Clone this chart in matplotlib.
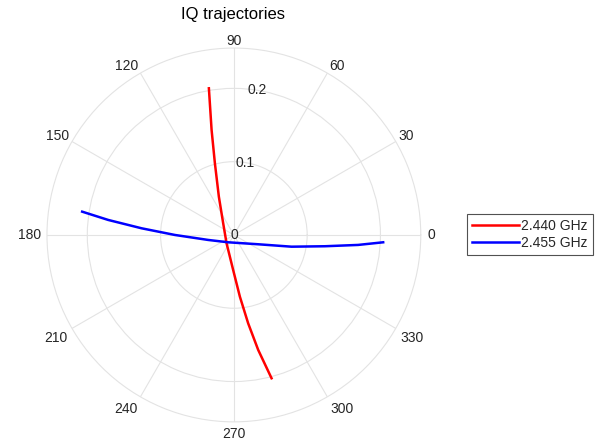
import numpy as np
import matplotlib
matplotlib.use("Agg")
import matplotlib.pyplot as plt
from matplotlib.transforms import offset_copy

plt.rcParams["font.family"] = ["Liberation Sans", "DejaVu Sans"]

# IQ samples (I, Q) for each carrier frequency
i_2440 = [-0.0341, -0.0304, -0.0259, -0.0205, -0.0146, -0.0100, -0.0010, 0.0082, 0.0195, 0.0332, 0.0514]
q_2440 = [0.2001, 0.1432, 0.0978, 0.0523, 0.0160, -0.0113, -0.0477, -0.0842, -0.1206, -0.1569, -0.1955]

i_2455 = [-0.2070, -0.1715, -0.1259, -0.0805, -0.0351, -0.0078, 0.0332, 0.0787, 0.1241, 0.1695, 0.2037]
q_2455 = [0.0318, 0.0205, 0.0091, 0.0000, -0.0068, -0.0100, -0.0127, -0.0160, -0.0154, -0.0136, -0.0100]

labels = ["2.440 GHz", "2.455 GHz"]
colors = ["#ff0000", "#0000ff"]

r_ticks = [0, 0.1, 0.2]
r_tick_labels = ["0", "0.1", "0.2"]
r_max = 0.255
theta_ticks = list(range(0, 360, 30))

text_color = "#262626"
grid_color = "#e3e3e3"

fig = plt.figure(figsize=(6.02, 4.45), dpi=100)
ax = fig.add_axes([0.078, 0.052, 0.621, 0.840], projection="polar")

for I, Q, lab, col in [(i_2440, q_2440, labels[0], colors[0]),
                       (i_2455, q_2455, labels[1], colors[1])]:
    I = np.asarray(I)
    Q = np.asarray(Q)
    ax.plot(np.arctan2(Q, I), np.hypot(I, Q), color=col, lw=1.8, label=lab)

ax.set_ylim(0, r_max)
ax.set_yticks(r_ticks)
ax.set_yticklabels([])
# radial tick labels centred along the 81 degree ray
for r, lab in zip(r_ticks, r_tick_labels):
    ax.text(np.deg2rad(81), r, lab, ha="center", va="center",
            fontsize=10, color=text_color, zorder=5)

# angular tick labels anchored just outside the outer circle
ax.set_xticks(np.deg2rad(theta_ticks))
ax.set_xticklabels([])
for t in theta_ticks:
    a = np.deg2rad(t)
    c, s = np.cos(a), np.sin(a)
    ha = "left" if c > 0.01 else ("right" if c < -0.01 else "center")
    if s > 0.01:
        va, gap = "baseline", 2.5
    elif s < -0.01:
        va, gap = "top", 4.0
    else:
        va, gap = "center", 4.5
    tr = offset_copy(ax.transData, fig=fig, x=gap * c, y=gap * s, units="points")
    ax.text(a, r_max, str(t), transform=tr, ha=ha, va=va,
            fontsize=10, color=text_color, clip_on=False)

ax.grid(True, color=grid_color, lw=0.8)
ax.spines["polar"].set_color(grid_color)
ax.spines["polar"].set_linewidth(0.8)

fig.text(233 / 602, 1 - 14 / 445, "IQ trajectories", ha="center", va="center",
         fontsize=12, color="#000000")

leg = fig.legend(loc="upper left", bbox_to_anchor=(467 / 602, 1 - 214 / 445),
                 frameon=True, fancybox=False, fontsize=10,
                 handlelength=3.4, handletextpad=0.15, borderpad=0.35,
                 labelspacing=0.25, borderaxespad=0)
leg.get_frame().set_edgecolor("#262626")
leg.get_frame().set_linewidth(0.8)
for t in leg.get_texts():
    t.set_color(text_color)

fig.savefig("out.png", dpi=100, facecolor="white")
